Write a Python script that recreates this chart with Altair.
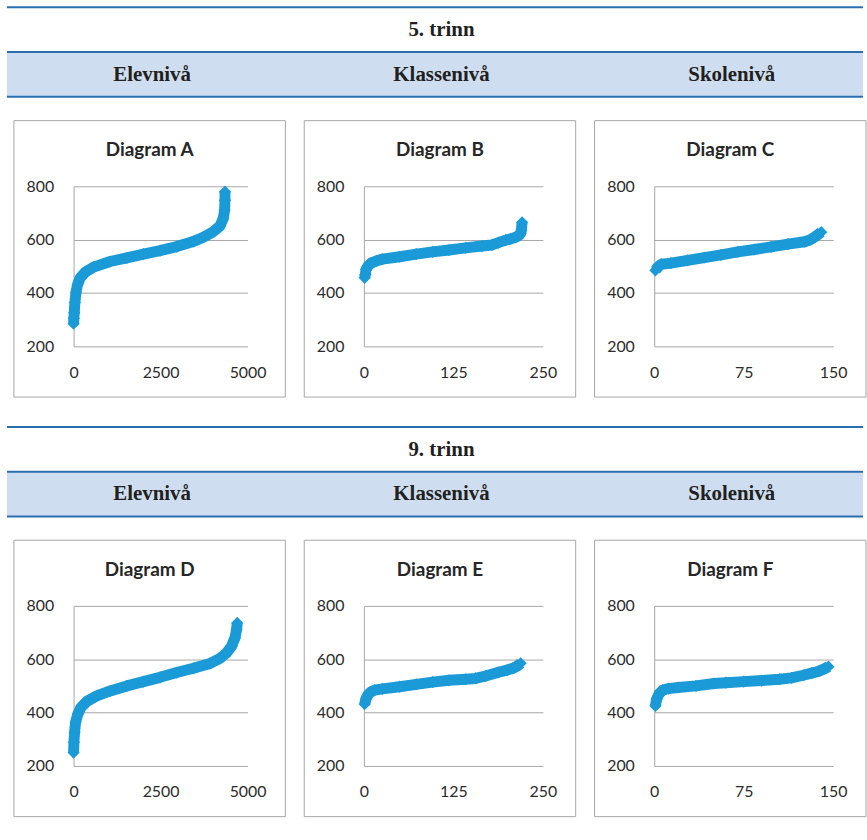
import altair as alt
import pandas as pd

# ---- data (sorted scores) ----
a_x = [0, 8, 19, 38, 67, 115, 191, 335, 574, 1052, 1530, 2008, 2486, 2964, 3442, 3728, 4015, 4206, 4302, 4340, 4350, 4352]
a_y = [285, 305, 326, 364, 401, 432, 457, 478, 497, 518, 532, 546, 559, 574, 593, 609, 630, 651, 680, 711, 748, 780]

b_x = [1, 2, 3, 6, 10, 18, 26, 50, 73, 96, 119, 142, 165, 179, 188, 198, 205, 212, 217, 219, 220, 221]
b_y = [457, 469, 488, 502, 512, 521, 527, 536, 546, 554, 561, 569, 576, 580, 589, 598, 603, 609, 617, 624, 636, 665]

c_x = [1, 3, 6, 14, 28, 42, 56, 70, 84, 98, 112, 126, 131, 135, 140]
c_y = [485, 497, 508, 512, 522, 533, 543, 554, 563, 573, 583, 592, 600, 611, 628]

d_x = [0, 10, 29, 57, 124, 210, 382, 669, 1052, 1530, 2008, 2486, 2964, 3442, 3920, 4206, 4398, 4541, 4637, 4684, 4703]
d_y = [250, 289, 326, 364, 395, 419, 442, 463, 481, 500, 516, 532, 550, 566, 584, 603, 624, 649, 680, 711, 736]

e_x = [1, 3, 6, 10, 15, 26, 50, 73, 96, 119, 142, 156, 170, 188, 200, 208, 214, 219]
e_y = [432, 452, 468, 478, 484, 489, 497, 506, 514, 521, 525, 528, 537, 551, 559, 566, 574, 585]

f_x = [1, 2, 4, 7, 12, 20, 35, 50, 60, 75, 90, 105, 115, 125, 132, 138, 143, 146]
f_y = [425, 450, 470, 484, 490, 494, 500, 509, 512, 516, 520, 525, 530, 540, 548, 555, 565, 572]

y_ticks = [200, 400, 600, 800]
ticks_elev = [0, 2500, 5000]
ticks_klasse = [0, 125, 250]
ticks_skole = [0, 75, 150]

sections = ["5. trinn", "9. trinn"]
levels = ["Elevnivå", "Klassenivå", "Skolenivå"]
titles = ["Diagram A", "Diagram B", "Diagram C", "Diagram D", "Diagram E", "Diagram F"]

BLUE = "#1a9ad6"
GRID = "#a6a6a6"
BOX = "#a6a6a6"
RULE = "#2a6fb0"
BAND = "#cedef0"
TXT = "#231f20"
OX = 73  # origin shared by header and first panel (its plot left edge)


def panel(title, xs, ys, xticks, plot_w, extra_left=False):
    df = pd.DataFrame({"x": xs, "y": ys, "i": list(range(len(xs)))})
    base = alt.Chart(df)
    xenc = alt.X("x:Q", scale=alt.Scale(domain=[xticks[0], xticks[-1]], nice=False),
                 axis=alt.Axis(values=xticks, format="d", title=None))
    yenc = alt.Y("y:Q", scale=alt.Scale(domain=[y_ticks[0], y_ticks[-1]], nice=False, zero=False),
                 axis=alt.Axis(values=y_ticks, format="d", title=None))
    line = base.mark_line(color=BLUE, strokeWidth=11, strokeJoin="round", strokeCap="butt").encode(
        x=xenc, y=yenc, order="i:Q")
    pts = base.mark_point(shape="diamond", filled=True, size=150, color=BLUE, opacity=1).encode(x=xenc, y=yenc)
    one = pd.DataFrame({"t": [title]})
    box = alt.Chart(one).mark_rect(fill="white", fillOpacity=0, stroke=BOX, strokeWidth=1).encode(
        x=alt.value(-60), x2=alt.value(213), y=alt.value(-66), y2=alt.value(212))
    ttl = alt.Chart(one).mark_text(font="Lato", fontWeight="bold", fontSize=19, color="#262626",
                                   baseline="alphabetic", align="center").encode(
        text="t:N", x=alt.value(76.5), y=alt.value(-30))
    layers = [box, line, pts, ttl]
    if extra_left:
        pad = alt.Chart(one).mark_rule(color="white", strokeWidth=1).encode(
            x=alt.value(-OX), y=alt.value(-66), y2=alt.value(212))
        layers.insert(0, pad)
    return alt.layer(*layers).properties(width=plot_w, height=161)


def header(section, h, rule_y, text_y, band_y1, band_y2, band_text_y):
    one = pd.DataFrame({"t": [section]})
    c = alt.Chart(one)
    x0, x1 = 6 - OX, 867 - OX
    layers = [
        c.mark_rule(color=RULE, strokeWidth=2).encode(x=alt.value(x0), x2=alt.value(x1), y=alt.value(rule_y)),
        c.mark_text(font="Liberation Serif", fontWeight="bold", fontSize=21, color=TXT,
                    baseline="alphabetic", align="center").encode(text="t:N", x=alt.value(443 - OX), y=alt.value(text_y)),
        c.mark_rect(fill=BAND).encode(x=alt.value(x0), x2=alt.value(x1), y=alt.value(band_y1), y2=alt.value(band_y2)),
        c.mark_rule(color=RULE, strokeWidth=2).encode(x=alt.value(x0), x2=alt.value(x1), y=alt.value(band_y1)),
        c.mark_rule(color=RULE, strokeWidth=2).encode(x=alt.value(x0), x2=alt.value(x1), y=alt.value(band_y2)),
    ]
    for lab, xp in zip(levels, [152, 443, 735]):
        layers.append(
            alt.Chart(pd.DataFrame({"t": [lab]})).mark_text(
                font="Liberation Serif", fontWeight="bold", fontSize=21, color=TXT,
                baseline="alphabetic", align="center").encode(
                text="t:N", x=alt.value(xp - OX), y=alt.value(band_text_y)))
    return alt.layer(*layers).properties(width=867 - OX, height=h)


row1 = alt.hconcat(
    panel(titles[0], a_x, a_y, ticks_elev, 175, extra_left=True),
    panel(titles[1], b_x, b_y, ticks_klasse, 180),
    panel(titles[2], c_x, c_y, ticks_skole, 180),
    spacing=17,
)
row2 = alt.hconcat(
    panel(titles[3], d_x, d_y, ticks_elev, 175, extra_left=True),
    panel(titles[4], e_x, e_y, ticks_klasse, 180),
    panel(titles[5], f_x, f_y, ticks_skole, 180),
    spacing=17,
)

chart = alt.vconcat(
    header(sections[0], 118, 5, 34, 50, 95, 79),
    row1,
    header(sections[1], 142, 29, 58, 74, 119, 103),
    row2,
    spacing=0,
).properties(padding=0).configure_view(strokeWidth=0).configure_axisX(
    grid=False, domain=False, ticks=False, tickSize=0, labelFlush=False,
    labelFont="Lato", labelFontSize=16, labelColor="#2b2b2b", labelPadding=18,
).configure_axisY(
    grid=True, gridColor=GRID, gridWidth=1, domain=True, domainColor=GRID, domainWidth=1,
    ticks=False, tickSize=0, labelFlush=False,
    labelFont="Lato", labelFontSize=16, labelColor="#2b2b2b", labelPadding=20,
)

chart.save("out.html", embed_options={"renderer": "svg", "actions": False})
